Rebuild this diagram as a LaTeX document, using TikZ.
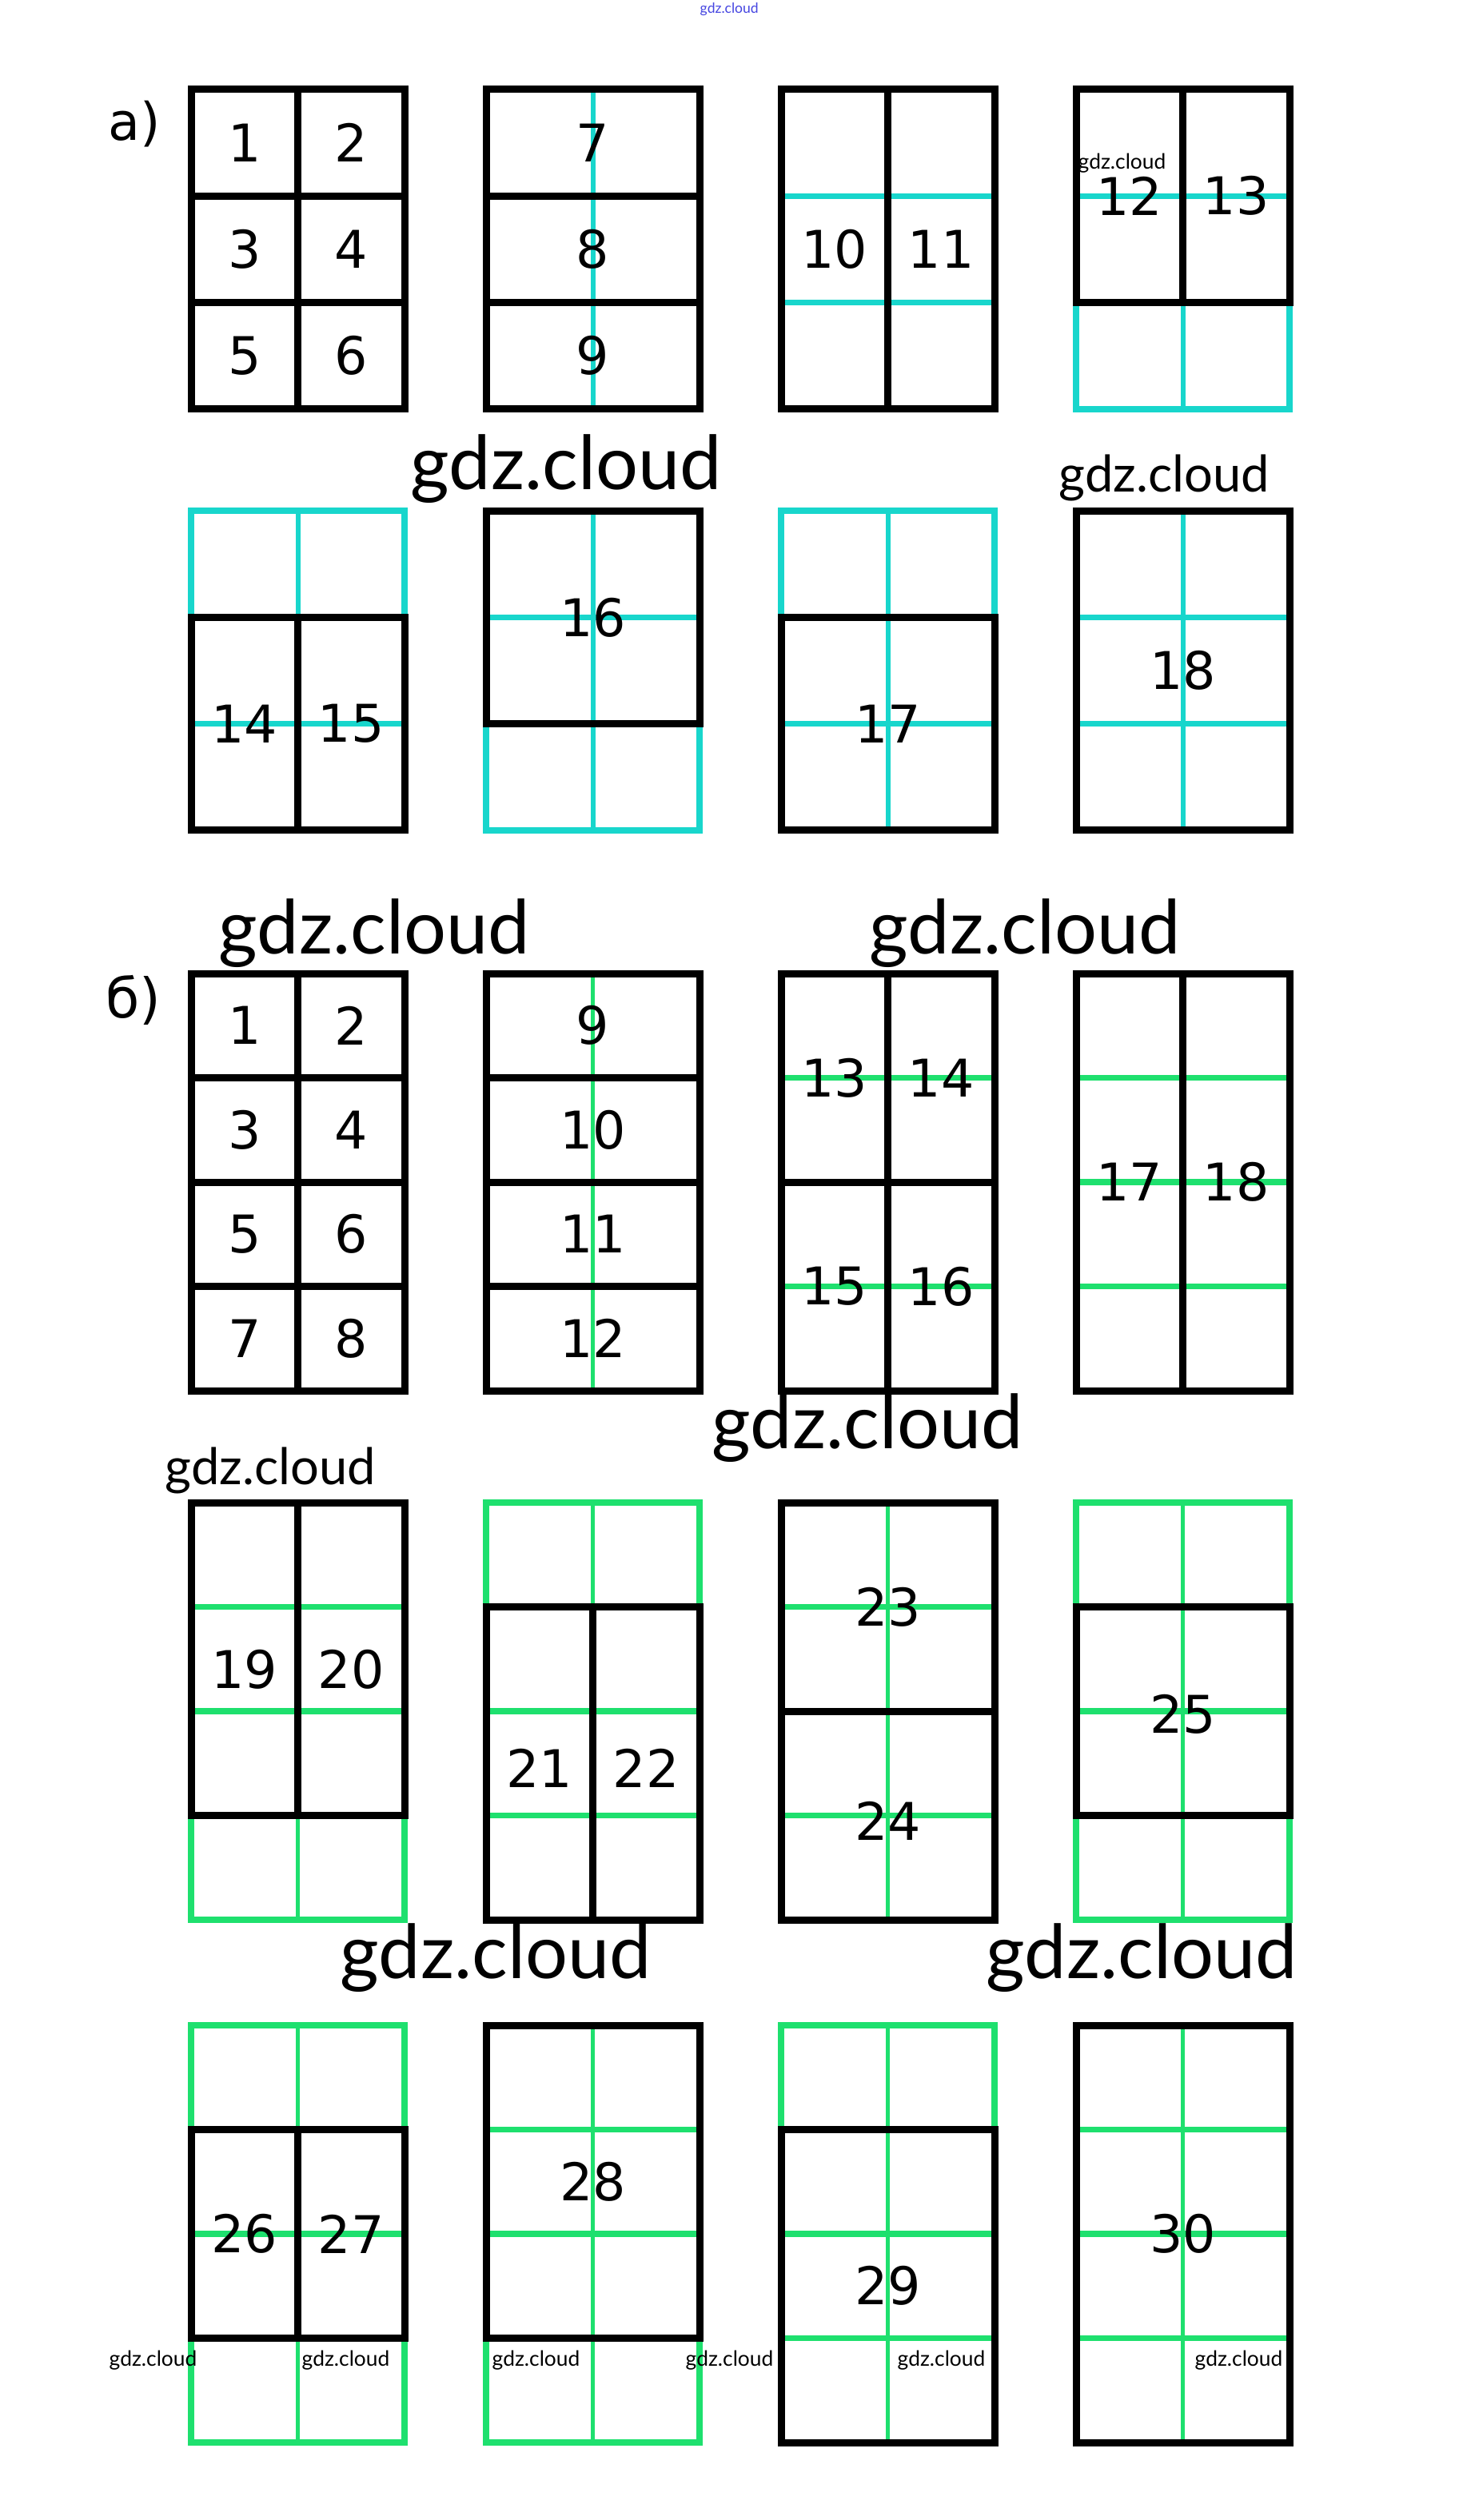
\documentclass[tikz,border=0pt]{standalone}
\usepackage{fontspec}
\usepackage{tikz}
\usetikzlibrary{positioning,calc}
\newfontfamily\numfont{DejaVu Sans}
\newfontfamily\stampfont{Lato}
\definecolor{colortext} {RGB}{  0,  0,  0}
\definecolor{colorcyan} {RGB}{ 24,214,204}
\definecolor{colorgreen}{RGB}{ 30,224,110}
\definecolor{colorstamp}{RGB}{ 70, 70,225}

\begin{document}
\begin{tikzpicture}[
    node distance = 1.02cm,
    panel/.style={inner sep=0pt,outer sep=0pt,minimum width=2.67cm,minimum height=4cm},
    tallpanel/.style={panel,minimum height=5.22cm},
    gridA/.style={shift={(#1.north west)},x=1.335cm,y=-1.3333cm},
    gridB/.style={shift={(#1.north west)},x=1.335cm,y=-1.305cm},
    cell/.style={draw=colortext,line width=0.9mm},
    cyanline/.style={draw=colorcyan,line width=0.75mm},
    cyanthin/.style={draw=colorcyan,line width=0.6mm},
    greenline/.style={draw=colorgreen,line width=0.75mm},
    greenthin/.style={draw=colorgreen,line width=0.5mm},
    digit/.style={text=colortext,inner sep=0pt,font={\numfont\fontsize{18.5}{20}\selectfont}},
    part/.style={digit,font={\numfont\fontsize{18.5}{20}\selectfont}},
    stamp/.style={text=colortext,inner sep=0pt,anchor=base west},
    stampbig/.style={stamp,font={\stampfont\fontsize{26.6}{27}\selectfont}},
    stampmid/.style={stamp,font={\stampfont\fontsize{18}{19}\selectfont}},
    stampsmall/.style={stamp,font={\stampfont\fontsize{7.5}{8}\selectfont}},
]

    \useasboundingbox[fill=white] (0,0) rectangle (18.24,-31.53);

    % part a
    \node[part] (parta) at (1.68,-1.55) {a)};
    \node[panel]                  (a1) at (3.725,-3.12) {};
    \node[panel,right=of a1]      (a2) {};
    \node[panel,right=of a2]      (a3) {};
    \node[panel,right=of a3]      (a4) {};
    \node[panel,below=1.27cm of a1] (a5) {};
    \node[panel,right=of a5]      (a6) {};
    \node[panel,right=of a6]      (a7) {};
    \node[panel,right=of a7]      (a8) {};

    \begin{scope}[gridA=a1]
        \draw[cell] (0,0) rectangle (2,3) (1,0) -- (1,3) (0,1) -- (2,1) (0,2) -- (2,2);
        \node[digit] (na1) at (0.5,0.5) {1};
        \node[digit] (na2) at (1.5,0.5) {2};
        \node[digit] (na3) at (0.5,1.5) {3};
        \node[digit] (na4) at (1.5,1.5) {4};
        \node[digit] (na5) at (0.5,2.5) {5};
        \node[digit] (na6) at (1.5,2.5) {6};
    \end{scope}
    \begin{scope}[gridA=a2]
        \draw[cyanthin] (1,0) -- (1,3);
        \draw[cell] (0,0) rectangle (2,3) (0,1) -- (2,1) (0,2) -- (2,2);
        \node[digit] (na7) at (1,0.5) {7};
        \node[digit] (na8) at (1,1.5) {8};
        \node[digit] (na9) at (1,2.5) {9};
    \end{scope}
    \begin{scope}[gridA=a3]
        \draw[cyanline] (0,1) -- (2,1) (0,2) -- (2,2);
        \draw[cell] (0,0) rectangle (2,3) (1,0) -- (1,3);
        \node[digit] (na10) at (0.5,1.5) {10};
        \node[digit] (na11) at (1.5,1.5) {11};
    \end{scope}
    \begin{scope}[gridA=a4]
        \draw[cyanline] (0,2) -- (0,3) -- (2,3) -- (2,2) (0,1) -- (2,1);
        \draw[cyanthin] (1,2) -- (1,3);
        \draw[cell] (0,0) rectangle (2,2) (1,0) -- (1,2);
        \node[digit] (na12) at (0.5,1) {12};
        \node[digit] (na13) at (1.5,1) {13};
    \end{scope}
    \begin{scope}[gridA=a5]
        \draw[cyanline] (0,1) -- (0,0) -- (2,0) -- (2,1) (0,2) -- (2,2);
        \draw[cyanthin] (1,0) -- (1,1);
        \draw[cell] (0,1) rectangle (2,3) (1,1) -- (1,3);
        \node[digit] (na14) at (0.5,2) {14};
        \node[digit] (na15) at (1.5,2) {15};
    \end{scope}
    \begin{scope}[gridA=a6]
        \draw[cyanline] (0,2) -- (0,3) -- (2,3) -- (2,2) (0,1) -- (2,1);
        \draw[cyanthin] (1,0) -- (1,3);
        \draw[cell] (0,0) rectangle (2,2);
        \node[digit] (na16) at (1,1) {16};
    \end{scope}
    \begin{scope}[gridA=a7]
        \draw[cyanline] (0,1) -- (0,0) -- (2,0) -- (2,1) (0,2) -- (2,2);
        \draw[cyanthin] (1,0) -- (1,3);
        \draw[cell] (0,1) rectangle (2,3);
        \node[digit] (na17) at (1,2) {17};
    \end{scope}
    \begin{scope}[gridA=a8]
        \draw[cyanline] (0,1) -- (2,1) (0,2) -- (2,2);
        \draw[cyanthin] (1,0) -- (1,3);
        \draw[cell] (0,0) rectangle (2,3);
        \node[digit] (na18) at (1,1.5) {18};
    \end{scope}

    % part b
    \node[part,font={\numfont\fontsize{19.5}{20}\selectfont}] (partb) at (1.67,-12.51) {б)};
    \node[tallpanel]                    (b1) at (3.725,-14.79) {};
    \node[tallpanel,right=of b1]        (b2) {};
    \node[tallpanel,right=of b2]        (b3) {};
    \node[tallpanel,right=of b3]        (b4) {};
    \node[tallpanel,below=1.40cm of b1] (b5) {};
    \node[tallpanel,right=of b5]        (b6) {};
    \node[tallpanel,right=of b6]        (b7) {};
    \node[tallpanel,right=of b7]        (b8) {};
    \node[tallpanel,below=1.32cm of b5] (b9) {};
    \node[tallpanel,right=of b9]        (b10) {};
    \node[tallpanel,right=of b10]       (b11) {};
    \node[tallpanel,right=of b11]       (b12) {};

    \begin{scope}[gridB=b1]
        \draw[cell] (0,0) rectangle (2,4) (1,0) -- (1,4) (0,1) -- (2,1) (0,2) -- (2,2) (0,3) -- (2,3);
        \node[digit] (nb1) at (0.5,0.5) {1};
        \node[digit] (nb2) at (1.5,0.5) {2};
        \node[digit] (nb3) at (0.5,1.5) {3};
        \node[digit] (nb4) at (1.5,1.5) {4};
        \node[digit] (nb5) at (0.5,2.5) {5};
        \node[digit] (nb6) at (1.5,2.5) {6};
        \node[digit] (nb7) at (0.5,3.5) {7};
        \node[digit] (nb8) at (1.5,3.5) {8};
    \end{scope}
    \begin{scope}[gridB=b2]
        \draw[greenthin] (1,0) -- (1,4);
        \draw[cell] (0,0) rectangle (2,4) (0,1) -- (2,1) (0,2) -- (2,2) (0,3) -- (2,3);
        \node[digit] (nb9)  at (1,0.5) {9};
        \node[digit] (nb10) at (1,1.5) {10};
        \node[digit] (nb11) at (1,2.5) {11};
        \node[digit] (nb12) at (1,3.5) {12};
    \end{scope}
    \begin{scope}[gridB=b3]
        \draw[greenline] (0,1) -- (2,1) (0,3) -- (2,3);
        \draw[cell] (0,0) rectangle (2,4) (1,0) -- (1,4) (0,2) -- (2,2);
        \node[digit] (nb13) at (0.5,1) {13};
        \node[digit] (nb14) at (1.5,1) {14};
        \node[digit] (nb15) at (0.5,3) {15};
        \node[digit] (nb16) at (1.5,3) {16};
    \end{scope}
    \begin{scope}[gridB=b4]
        \draw[greenline] (0,1) -- (2,1) (0,2) -- (2,2) (0,3) -- (2,3);
        \draw[cell] (0,0) rectangle (2,4) (1,0) -- (1,4);
        \node[digit] (nb17) at (0.5,2) {17};
        \node[digit] (nb18) at (1.5,2) {18};
    \end{scope}
    \begin{scope}[gridB=b5]
        \draw[greenline] (0,3) -- (0,4) -- (2,4) -- (2,3) (0,1) -- (2,1) (0,2) -- (2,2);
        \draw[greenthin] (1,3) -- (1,4);
        \draw[cell] (0,0) rectangle (2,3) (1,0) -- (1,3);
        \node[digit] (nb19) at (0.5,1.6) {19};
        \node[digit] (nb20) at (1.5,1.6) {20};
    \end{scope}
    \begin{scope}[gridB=b6]
        \draw[greenline] (0,1) -- (0,0) -- (2,0) -- (2,1) (0,2) -- (2,2) (0,3) -- (2,3);
        \draw[greenthin] (1,0) -- (1,1);
        \draw[cell] (0,1) rectangle (2,4) (1,1) -- (1,4);
        \node[digit] (nb21) at (0.5,2.55) {21};
        \node[digit] (nb22) at (1.5,2.55) {22};
    \end{scope}
    \begin{scope}[gridB=b7]
        \draw[greenline] (0,1) -- (2,1) (0,3) -- (2,3);
        \draw[greenthin] (1,0) -- (1,4);
        \draw[cell] (0,0) rectangle (2,4) (0,2) -- (2,2);
        \node[digit] (nb23) at (1,1) {23};
        \node[digit] (nb24) at (1,3.05) {24};
    \end{scope}
    \begin{scope}[gridB=b8]
        \draw[greenline] (0,1) -- (0,0) -- (2,0) -- (2,1) (0,3) -- (0,4) -- (2,4) -- (2,3) (0,2) -- (2,2);
        \draw[greenthin] (1,0) -- (1,4);
        \draw[cell] (0,1) rectangle (2,3);
        \node[digit] (nb25) at (1,2.03) {25};
    \end{scope}
    \begin{scope}[gridB=b9]
        \draw[greenline] (0,1) -- (0,0) -- (2,0) -- (2,1) (0,3) -- (0,4) -- (2,4) -- (2,3) (0,2) -- (2,2);
        \draw[greenthin] (1,0) -- (1,4);
        \draw[cell] (0,1) rectangle (2,3) (1,1) -- (1,3);
        \node[digit] (nb26) at (0.5,2) {26};
        \node[digit] (nb27) at (1.5,2) {27};
    \end{scope}
    \begin{scope}[gridB=b10]
        \draw[greenline] (0,3) -- (0,4) -- (2,4) -- (2,3) (0,1) -- (2,1) (0,2) -- (2,2);
        \draw[greenthin] (1,0) -- (1,4);
        \draw[cell] (0,0) rectangle (2,3);
        \node[digit] (nb28) at (1,1.5) {28};
    \end{scope}
    \begin{scope}[gridB=b11]
        \draw[greenline] (0,1) -- (0,0) -- (2,0) -- (2,1) (0,2) -- (2,2) (0,3) -- (2,3);
        \draw[greenthin] (1,0) -- (1,4);
        \draw[cell] (0,1) rectangle (2,4);
        \node[digit] (nb29) at (1,2.5) {29};
    \end{scope}
    \begin{scope}[gridB=b12]
        \draw[greenline] (0,1) -- (2,1) (0,2) -- (2,2) (0,3) -- (2,3);
        \draw[greenthin] (1,0) -- (1,4);
        \draw[cell] (0,0) rectangle (2,4);
        \node[digit] (nb30) at (1,2) {30};
    \end{scope}

    % Watermarks
    \node[stampsmall,text=colorstamp,font={\stampfont\fontsize{5}{6}\selectfont}] (wm0) at (8.75,-0.17) {gdz.cloud};
    \node[stampsmall] (wm1)  at (13.48,-2.12)  {gdz.cloud};
    \node[stampbig]   (wm2)  at (5.13,-6.13)   {gdz.cloud};
    \node[stampmid]   (wm3)  at (13.24,-6.16)  {gdz.cloud};
    \node[stampbig]   (wm4)  at (2.73,-11.93)  {gdz.cloud};
    \node[stampbig]   (wm5)  at (10.87,-11.93) {gdz.cloud};
    \node[stampbig]   (wm6)  at (8.90,-18.12)  {gdz.cloud};
    \node[stampmid]   (wm7)  at (2.06,-18.57)  {gdz.cloud};
    \node[stampbig]   (wm8)  at (4.25,-24.75)  {gdz.cloud};
    \node[stampbig]   (wm9)  at (12.33,-24.75) {gdz.cloud};
    \node[stampsmall] (wm10) at (1.36,-29.60)  {gdz.cloud};
    \node[stampsmall] (wm11) at (3.77,-29.60)  {gdz.cloud};
    \node[stampsmall] (wm12) at (6.15,-29.60)  {gdz.cloud};
    \node[stampsmall] (wm13) at (8.57,-29.60)  {gdz.cloud};
    \node[stampsmall] (wm14) at (11.22,-29.60) {gdz.cloud};
    \node[stampsmall] (wm15) at (14.94,-29.60) {gdz.cloud};

\end{tikzpicture}
\end{document}
